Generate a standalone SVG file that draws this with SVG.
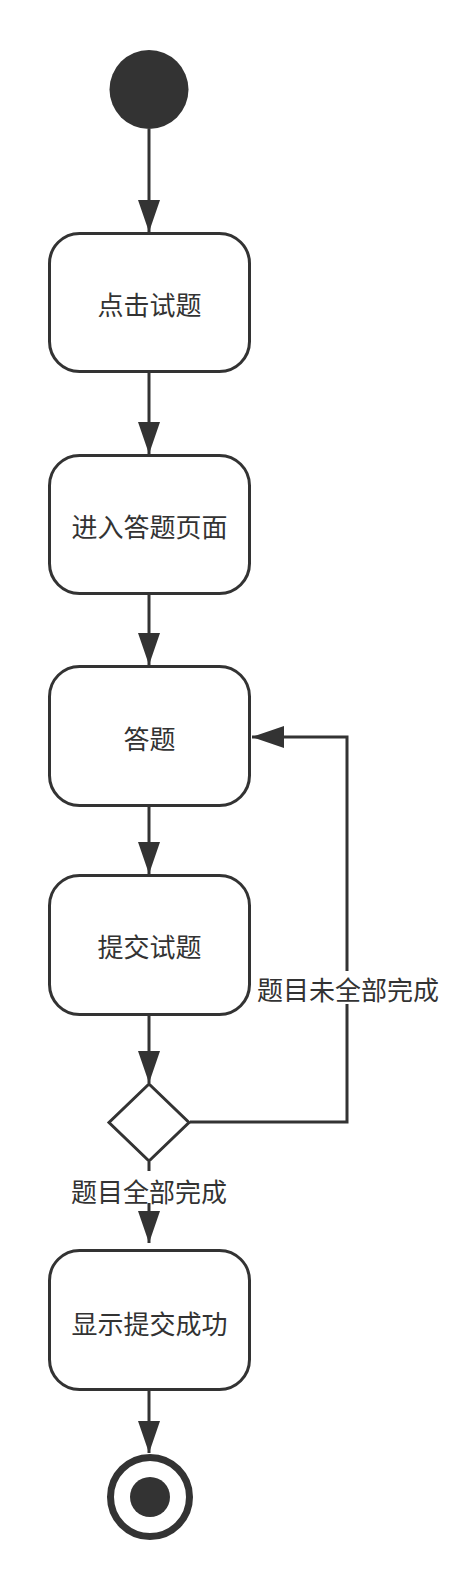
<svg xmlns="http://www.w3.org/2000/svg" width="469" height="1587" viewBox="0 0 469 1587">
<style>
.box{fill:#ffffff;stroke:#333333;stroke-width:3}
.lbl{font-family:"Noto Sans CJK SC","Noto Sans",sans-serif;font-size:26px;fill:#333333;text-anchor:middle;dominant-baseline:central}
.edge{fill:none;stroke:#333333;stroke-width:3}
.bg{fill:#ffffff}
</style>
<defs>
<marker id="arr" markerUnits="userSpaceOnUse" markerWidth="32" markerHeight="22" refX="32" refY="11" orient="auto" viewBox="0 0 32 22">
<path d="M0,0 L32,11 L0,22 z" fill="#333333"/>
</marker>
</defs>
<rect width="469" height="1587" fill="#ffffff"/>
<g id="connectors">
<path class="edge" d="M149,129 L149,232" marker-end="url(#arr)"/>
<path class="edge" d="M149,373 L149,454" marker-end="url(#arr)"/>
<path class="edge" d="M149,595 L149,665" marker-end="url(#arr)"/>
<path class="edge" d="M149,807 L149,874" marker-end="url(#arr)"/>
<path class="edge" d="M149,1016 L149,1083" marker-end="url(#arr)"/>
<path class="edge" d="M149,1162 L149,1243" marker-end="url(#arr)"/>
<path class="edge" d="M149,1391 L149,1453" marker-end="url(#arr)"/>
<path class="edge" d="M190,1122 L347,1122 L347,737 L252,737" marker-end="url(#arr)"/>
<rect class="bg" x="256" y="971" width="184" height="33"/>
<text class="lbl" x="348" y="988">题目未全部完成</text>
<rect class="bg" x="70" y="1171" width="158" height="32"/>
<text class="lbl" x="149" y="1190">题目全部完成</text>
</g>
<g id="start">
<circle cx="149" cy="89.5" r="39.5" fill="#333333"/>
</g>
<g id="n1">
<rect class="box" x="49.5" y="233.5" width="200" height="138" rx="30" ry="30"/>
<text class="lbl" x="149.5" y="303">点击试题</text>
</g>
<g id="n2">
<rect class="box" x="49.5" y="455.5" width="200" height="138" rx="30" ry="30"/>
<text class="lbl" x="149.5" y="525">进入答题页面</text>
</g>
<g id="n3">
<rect class="box" x="49.5" y="666.5" width="200" height="139" rx="30" ry="30"/>
<text class="lbl" x="149.5" y="737">答题</text>
</g>
<g id="n4">
<rect class="box" x="49.5" y="875.5" width="200" height="139" rx="30" ry="30"/>
<text class="lbl" x="149.5" y="945">提交试题</text>
</g>
<g id="decision">
<path class="box" d="M149,1084 L189,1122.5 L149,1161 L109,1122.5 z"/>
</g>
<g id="n5">
<rect class="box" x="49.5" y="1250.5" width="200" height="139" rx="30" ry="30"/>
<text class="lbl" x="149.5" y="1322">显示提交成功</text>
</g>
<g id="end">
<circle cx="150" cy="1497" r="39.5" fill="#ffffff" stroke="#333333" stroke-width="7"/>
<circle cx="150" cy="1497" r="20" fill="#333333"/>
</g>
</svg>
